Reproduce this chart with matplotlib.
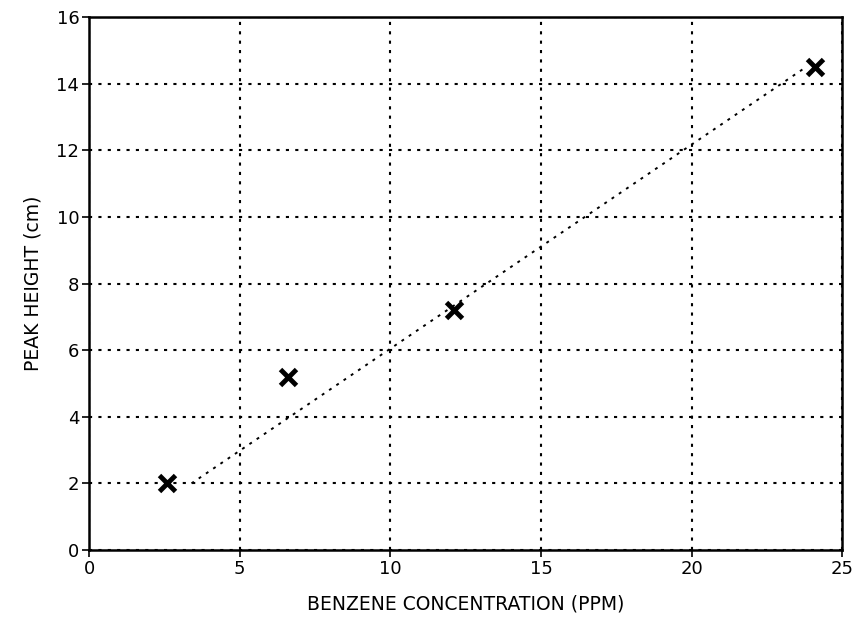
import matplotlib
matplotlib.use("Agg")
import matplotlib.pyplot as plt

conc_ppm = [2.6, 6.6, 12.1, 24.1]
peak_cm = [2.0, 5.2, 7.2, 14.5]
fit_x = [3.4, 23.8]
fit_y = [2.0, 14.5]
xticks = [0, 5, 10, 15, 20, 25]
yticks = [0, 2, 4, 6, 8, 10, 12, 14, 16]

fig = plt.figure(figsize=(8.56, 6.18), dpi=100)
ax = fig.add_axes([0.104, 0.110, 0.880, 0.8625])
ax.set_xlim(0, 25)
ax.set_ylim(0, 16)
ax.set_xticks(xticks)
ax.set_yticks(yticks)
ax.grid(True, color="black", linestyle=(0, (1.5, 3)), linewidth=1.5)
ax.plot(fit_x, fit_y, color="black", linestyle=(0, (1.5, 3)), linewidth=1.4, zorder=3)
ax.plot(conc_ppm, peak_cm, linestyle="none", marker="x", color="black",
        markersize=11, markeredgewidth=3.5, zorder=4)
for s in ax.spines.values():
    s.set_linewidth(1.8)
ax.tick_params(direction="out", length=5, width=1.2, labelsize=13, pad=2, colors="black")
ax.set_xlabel("BENZENE CONCENTRATION (PPM)", fontsize=13.5, labelpad=12)
ax.set_ylabel("PEAK HEIGHT (cm)", fontsize=13.5, labelpad=10)
fig.savefig("out.png", dpi=100)
